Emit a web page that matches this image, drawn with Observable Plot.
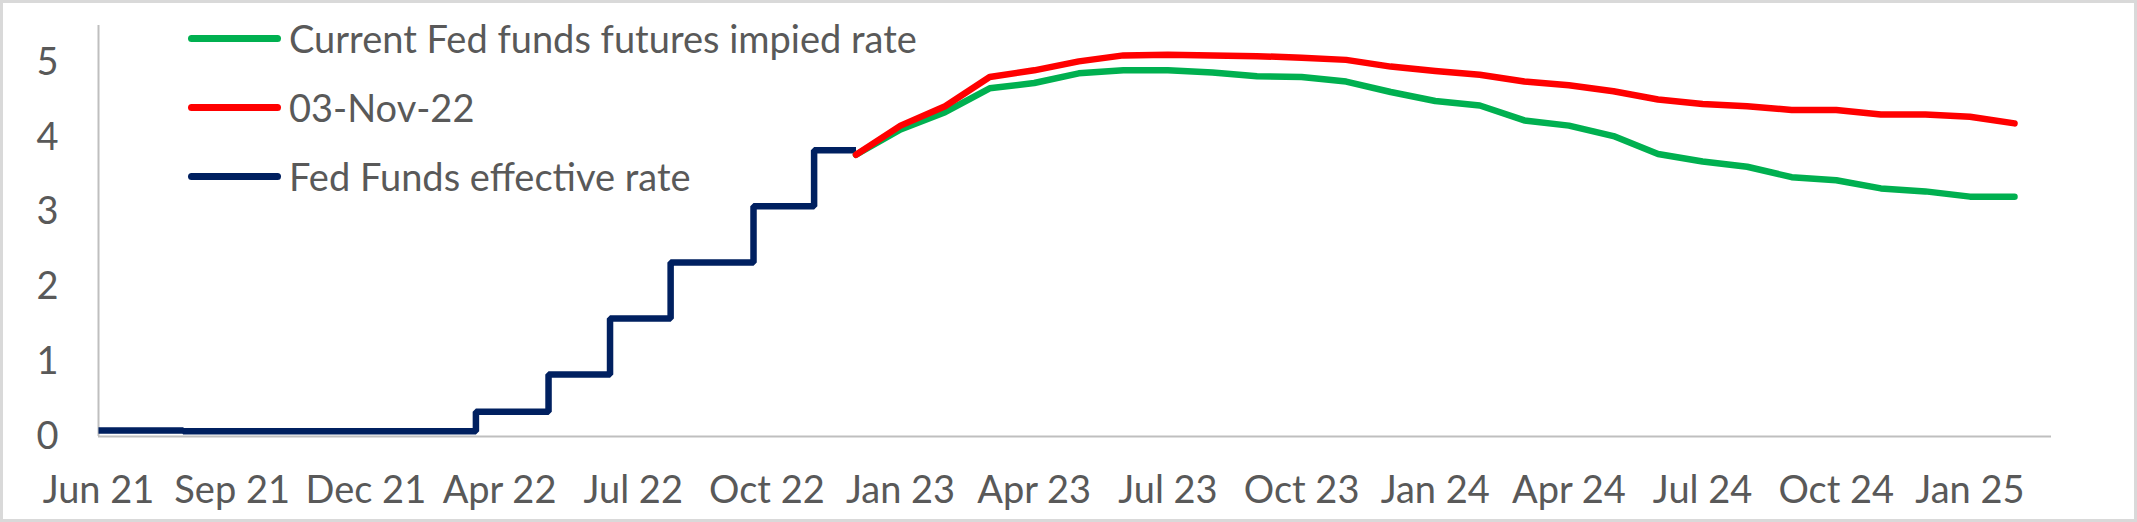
<!DOCTYPE html>
<html>
<head>
<meta charset="utf-8">
<script src="https://cdn.jsdelivr.net/npm/d3@7"></script>
<script src="https://cdn.jsdelivr.net/npm/@observablehq/plot@0.6"></script>
<style>
  html, body { margin: 0; padding: 0; background: #fff; overflow: hidden; }
  #wrap { position: relative; width: 2137px; height: 522px; }
  #frame { position: absolute; left: 0; top: 0; width: 2137px; height: 522px; box-sizing: border-box; border: 3px solid #d9d9d9; pointer-events: none; }
  #legend { position: absolute; left: 188px; top: 0; font-family: Lato, "Noto Sans", sans-serif; font-size: 38px; color: #595959; }
  .item { position: absolute; left: 0; height: 50px; display: flex; align-items: center; white-space: nowrap; }
  .sw { width: 93px; height: 7px; border-radius: 3.5px; margin-right: 8px; flex: none; }
</style>
</head>
<body>
<div id="wrap">
  <div id="chart"></div>
  <div id="legend"></div>
  <div id="frame"></div>
</div>
<script>
// ---- data ----
const tickIdx = [0, 3, 6, 9, 12, 15, 18, 21, 24, 27, 30, 33, 36, 39, 42];
const tickLabels = ["Jun 21", "Sep 21", "Dec 21", "Apr 22", "Jul 22", "Oct 22", "Jan 23", "Apr 23",
                    "Jul 23", "Oct 23", "Jan 24", "Apr 24", "Jul 24", "Oct 24", "Jan 25"];

// Fed Funds effective rate (step changes, category position where each level starts)
const effIdx    = [0,    1.9,  8.47, 10.10, 11.48, 12.84, 14.70, 16.06, 17.0];
const effValues = [0.08, 0.07, 0.33, 0.83,  1.58,  2.33,  3.08,  3.83,  3.83];

// Futures-implied paths, categories 17..43
const futIdx = [17, 18, 19, 20, 21, 22, 23, 24, 25, 26, 27, 28, 29, 30, 31, 32, 33, 34, 35, 36, 37, 38, 39, 40, 41, 42, 43];
const currentValues = [3.77, 4.11, 4.34, 4.66, 4.73, 4.86, 4.90, 4.90, 4.87, 4.82, 4.81, 4.75, 4.61, 4.49, 4.43,
                       4.23, 4.16, 4.02, 3.78, 3.68, 3.61, 3.47, 3.43, 3.32, 3.28, 3.21, 3.21];
const nov3Values    = [3.77, 4.16, 4.42, 4.81, 4.90, 5.02, 5.10, 5.11, 5.10, 5.09, 5.07, 5.04, 4.95, 4.89, 4.84,
                       4.75, 4.70, 4.62, 4.51, 4.45, 4.42, 4.37, 4.37, 4.31, 4.31, 4.28, 4.19];

const seriesNames = ["Current Fed funds futures impied rate", "03-Nov-22", "Fed Funds effective rate"];
const seriesColors = ["#00B050", "#FF0000", "#002060"];

// ---- tables ----
const eff = effIdx.map((i, k) => ({i, v: effValues[k]}));
const cur = futIdx.map((i, k) => ({i, v: currentValues[k]}));
const nov = futIdx.map((i, k) => ({i, v: nov3Values[k]}));

const chart = Plot.plot({
  width: 2137,
  height: 522,
  marginLeft: 98,
  marginRight: 86,
  marginTop: 25,
  marginBottom: 86,
  style: { fontFamily: "Lato, 'Noto Sans', sans-serif", fontSize: "38px", color: "#595959", background: "transparent" },
  x: { type: "linear", domain: [0, 43.83] },
  y: { domain: [0, 5.5] },
  marks: [
    Plot.ruleX([0], { stroke: "#bfbfbf", strokeWidth: 2 }),
    Plot.ruleY([0], { stroke: "#bfbfbf", strokeWidth: 2 }),
    Plot.axisY({ ticks: [0, 1, 2, 3, 4, 5], tickSize: 0, tickPadding: 40, label: null, tickFormat: d3.format("d") }),
    Plot.axisX({ ticks: tickIdx, tickSize: 0, tickPadding: 40, label: null,
                 tickFormat: d => tickLabels[tickIdx.indexOf(d)] }),
    Plot.line(eff, { x: "i", y: "v", curve: "step-after", stroke: seriesColors[2], strokeWidth: 6.5,
                     strokeLinejoin: "miter", strokeLinecap: "butt" }),
    Plot.line(cur, { x: "i", y: "v", stroke: seriesColors[0], strokeWidth: 6.5,
                     strokeLinejoin: "round", strokeLinecap: "round" }),
    Plot.line(nov, { x: "i", y: "v", stroke: seriesColors[1], strokeWidth: 6.5,
                     strokeLinejoin: "round", strokeLinecap: "round" })
  ]
});
document.getElementById("chart").appendChild(chart);

// legend (inside plot area, top-left)
const legend = document.getElementById("legend");
const legendCenters = [38, 107, 176];
seriesNames.forEach((name, k) => {
  const item = document.createElement("div");
  item.className = "item";
  item.style.top = (legendCenters[k] - 25) + "px";
  const sw = document.createElement("div");
  sw.className = "sw";
  sw.style.background = seriesColors[k];
  const t = document.createElement("span");
  t.textContent = name;
  item.appendChild(sw);
  item.appendChild(t);
  legend.appendChild(item);
});
</script>
</body>
</html>
